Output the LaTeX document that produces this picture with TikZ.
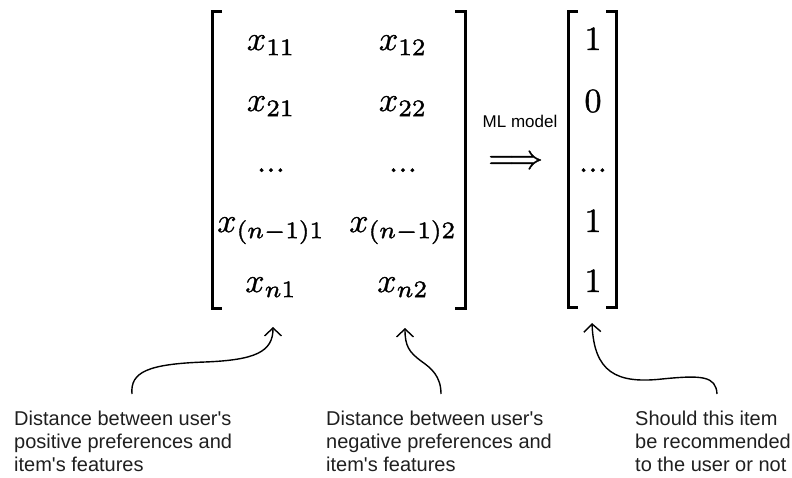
\documentclass[tikz,border=0pt]{standalone}
\usepackage{graphicx}
\usepackage{fontspec}
\newfontfamily\notefont{Liberation Sans}
\usetikzlibrary{arrows.meta}
% math set at 10pt, enlarged as a whole and given a slightly heavier stroke
\newcommand{\bigmath}[1]{%
  \special{pdf:literal direct 2 Tr 0.1 w}%
  \scalebox{3.4}{$#1$}%
  \special{pdf:literal direct 0 Tr}}

\begin{document}
\begin{tikzpicture}[x=1pt,y=-1pt,
  entry/.style={anchor=base, inner sep=0pt},
  bracket/.style={line width=3pt, line cap=butt, line join=miter},
  note/.style={anchor=base west, align=left, inner sep=0pt,
    font=\notefont\fontsize{20}{23}\selectfont, text=black!88},
  pointer/.style={line width=1.4pt, -{Straight Barb[length=8pt,width=17pt]}}]

\useasboundingbox (0,0) rectangle (792,478);

% feature matrix
\draw[bracket] (222,12) -- (212,12) -- (212,308) -- (222,308);
\draw[bracket] (455,12) -- (465,12) -- (465,308) -- (455,308);

\node[entry] (x11) at (271,50)    {\bigmath{x_{11}}};
\node[entry] (x12) at (403,50)    {\bigmath{x_{12}}};
\node[entry] (x21) at (271,111)   {\bigmath{x_{21}}};
\node[entry] (x22) at (403,111)   {\bigmath{x_{22}}};
\node[entry] (d1)  at (271,172)   {\bigmath{...}};
\node[entry] (d2)  at (403,172)   {\bigmath{...}};
\node[entry] (xm1) at (271,232)   {\bigmath{x_{(n-1)1}}};
\node[entry] (xm2) at (403,232)   {\bigmath{x_{(n-1)2}}};
\node[entry] (xn1) at (271,292)   {\bigmath{x_{n1}}};
\node[entry] (xn2) at (403,292)   {\bigmath{x_{n2}}};

% model step
\node[anchor=base, inner sep=0pt, font=\notefont\fontsize{17}{20}\selectfont]
  (ml) at (520,128) {ML model};
\node[entry] (implies) at (515.5,168.5) {\bigmath{\Longrightarrow}};

% output vector
\draw[bracket] (578,12) -- (568,12) -- (568,307) -- (578,307);
\draw[bracket] (606,12) -- (616,12) -- (616,307) -- (606,307);

\node[entry] (y1) at (593,50)  {\bigmath{1}};
\node[entry] (y2) at (593,112) {\bigmath{0}};
\node[entry] (y3) at (593,172) {\bigmath{...}};
\node[entry] (y4) at (593,232) {\bigmath{1}};
\node[entry] (y5) at (593,292) {\bigmath{1}};

% explanations (anchored at the baseline of their last line)
\node[note] (pos) at (14,471)
  {Distance between user's\\positive preferences and\\item's features};
\node[note] (neg) at (326,471)
  {Distance between user's\\negative preferences and\\item's features};
\node[note] (rec) at (635,471)
  {Should this item\\be recommended\\to the user or not};

% pointers from the explanations up to the columns
\coordinate (s1) at (132,394);
\coordinate (t1) at (273,327);
\coordinate (s2) at (441,394);
\coordinate (t2) at (405,328);
\coordinate (s3) at (717,394);
\coordinate (t3) at (592,323);

\draw[pointer] (s1) .. controls (130,372) and (148,364) .. (205,362)
               .. controls (255,360) and (273,352) .. (t1);
\draw[pointer] (s2) .. controls (441,376) and (431,368) .. (421,361)
               .. controls (409,352) and (405,346) .. (t2);
\draw[pointer] (s3) .. controls (716,376) and (702,375) .. (662,379)
               .. controls (616,384) and (594,372) .. (t3);
\end{tikzpicture}
\end{document}
